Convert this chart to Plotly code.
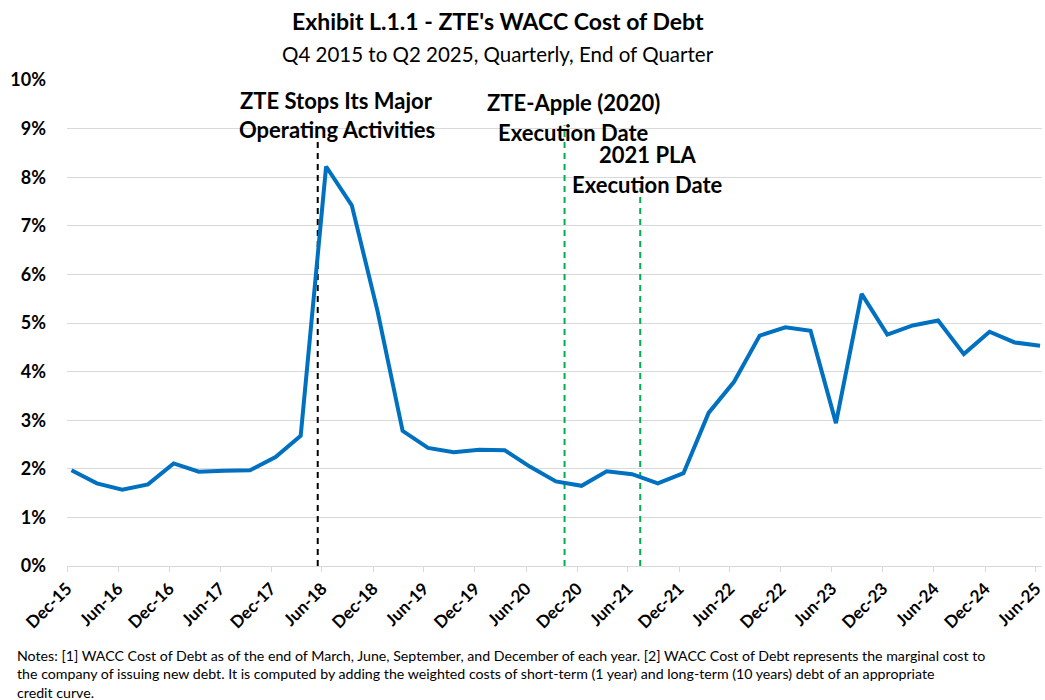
import plotly.graph_objects as go

# Quarter-end dates and WACC cost of debt (%)
quarter_ends = [
    "2015-12-31", "2016-03-31", "2016-06-30", "2016-09-30", "2016-12-31",
    "2017-03-31", "2017-06-30", "2017-09-30", "2017-12-31",
    "2018-03-31", "2018-06-30", "2018-09-30", "2018-12-31",
    "2019-03-31", "2019-06-30", "2019-09-30", "2019-12-31",
    "2020-03-31", "2020-06-30", "2020-09-30", "2020-12-31",
    "2021-03-31", "2021-06-30", "2021-09-30", "2021-12-31",
    "2022-03-31", "2022-06-30", "2022-09-30", "2022-12-31",
    "2023-03-31", "2023-06-30", "2023-09-30", "2023-12-31",
    "2024-03-31", "2024-06-30", "2024-09-30", "2024-12-31",
    "2025-03-31", "2025-06-30",
]
cost_of_debt_pct = [
    1.97, 1.70, 1.57, 1.68, 2.11,
    1.94, 1.96, 1.97, 2.24,
    2.68, 8.22, 7.42, 5.25,
    2.78, 2.43, 2.34, 2.39,
    2.38, 2.04, 1.74, 1.65,
    1.95, 1.89, 1.70, 1.91,
    3.15, 3.79, 4.74, 4.91,
    4.84, 2.94, 5.60, 4.76,
    4.95, 5.05, 4.36, 4.82,
    4.60, 4.53,
]

# Axis ticks (every six months)
tick_dates = [
    "2015-12-15", "2016-06-15", "2016-12-15", "2017-06-15", "2017-12-15",
    "2018-06-15", "2018-12-15", "2019-06-15", "2019-12-15", "2020-06-15",
    "2020-12-15", "2021-06-15", "2021-12-15", "2022-06-15", "2022-12-15",
    "2023-06-15", "2023-12-15", "2024-06-15", "2024-12-15", "2025-06-15",
]
tick_labels = [
    "Dec-15", "Jun-16", "Dec-16", "Jun-17", "Dec-17", "Jun-18", "Dec-18",
    "Jun-19", "Dec-19", "Jun-20", "Dec-20", "Jun-21", "Dec-21", "Jun-22",
    "Dec-22", "Jun-23", "Dec-23", "Jun-24", "Dec-24", "Jun-25",
]
y_ticks = [0, 1, 2, 3, 4, 5, 6, 7, 8, 9, 10]
y_tick_labels = [f"{v}%" for v in y_ticks]

# Event markers
event_dates = ["2018-05-31", "2020-10-31", "2021-07-29"]
event_tops = [8.83, 9.07, 7.78]
event_colors = ["#000000", "#00B050", "#00B050"]
event_line1 = ["ZTE Stops Its Major", "ZTE-Apple (2020)", "2021 PLA"]
event_line2 = ["Operating Activities", "Execution Date", "Execution Date"]
event_y1 = [9.57, 9.53, 8.46]
event_y2 = [8.99, 8.91, 7.86]
event_xshift = [19, 9, 7]

title = "Exhibit L.1.1 - ZTE's WACC Cost of Debt"
subtitle = "Q4 2015 to Q2 2025, Quarterly, End of Quarter"
notes = ("Notes: [1] WACC Cost of Debt as of the end of March, June, September, and December of each year. "
         "[2] WACC Cost of Debt represents the marginal cost to<br>the company of issuing new debt. "
         "It is computed by adding the weighted costs of short-term (1 year) and long-term (10 years) debt of an appropriate<br>"
         "credit curve.")

FONT = "Lato"

fig = go.Figure()

for d, top, c in zip(event_dates, event_tops, event_colors):
    fig.add_trace(go.Scatter(
        x=[d, d], y=[0, top], mode="lines",
        line=dict(color=c, width=2, dash="6px,5px"),
        hoverinfo="skip", showlegend=False,
    ))

fig.add_trace(go.Scatter(
    x=quarter_ends, y=cost_of_debt_pct, mode="lines",
    line=dict(color="#0070C0", width=4),
    showlegend=False,
))

annotations = []
for d, t1, t2, y1, y2, xs in zip(event_dates, event_line1, event_line2, event_y1, event_y2, event_xshift):
    for txt, yy in ((t1, y1), (t2, y2)):
        annotations.append(dict(
            x=d, y=yy, xref="x", yref="y", text=f"<b>{txt}</b>", showarrow=False,
            xshift=xs, xanchor="center", yanchor="middle",
            font=dict(family=FONT, size=22, color="#000000"),
        ))

# title / subtitle / notes (paper coordinates)
L, R, T, B = 67, 0, 80, 134
W, H = 1045, 700
pw, ph = W - L - R, H - T - B

def px(xp):
    return (xp - L) / pw

def py(yp):
    return (H - B - yp) / ph

annotations.append(dict(x=px(499), y=py(21), xref="paper", yref="paper", showarrow=False,
                        text=f"<b>{title}</b>", xanchor="center", yanchor="middle",
                        font=dict(family=FONT, size=23, color="#000000")))
annotations.append(dict(x=px(499), y=py(54), xref="paper", yref="paper", showarrow=False,
                        text=subtitle, xanchor="center", yanchor="middle",
                        font=dict(family=FONT, size=20.5, color="#000000")))
annotations.append(dict(x=px(15), y=py(645), xref="paper", yref="paper", showarrow=False,
                        text=notes, xanchor="left", yanchor="top", align="left",
                        font=dict(family=FONT, size=14.2, color="#000000")))

fig.update_layout(
    width=W, height=H,
    margin=dict(l=L, r=R, t=T, b=B),
    paper_bgcolor="white", plot_bgcolor="white",
    annotations=annotations,
    font=dict(family=FONT, color="#000000"),
)
fig.update_xaxes(
    type="date",
    range=["2015-12-15", "2025-07-07"],
    tickmode="array", tickvals=tick_dates, ticktext=[f"<b>{t}</b>" for t in tick_labels],
    tickangle=-45, tickfont=dict(family=FONT, size=17, color="#000000"),
    ticklabeloverflow="allow",
    ticks="outside", ticklen=5, tickcolor="#d9d9d9",
    showgrid=False, showline=True, linecolor="#d9d9d9", linewidth=1,
    zeroline=False,
)
fig.update_yaxes(
    range=[0, 10],
    tickmode="array", tickvals=y_ticks, ticktext=[f"<b>{t}</b>" for t in y_tick_labels],
    tickfont=dict(family=FONT, size=18, color="#000000"),
    showgrid=True, gridcolor="#d9d9d9", gridwidth=1,
    zeroline=False, ticks="", ticklabelstandoff=20,
)

fig.write_html("out.html", config={"displayModeBar": False},
               post_script="document.body.style.margin='0px';")
